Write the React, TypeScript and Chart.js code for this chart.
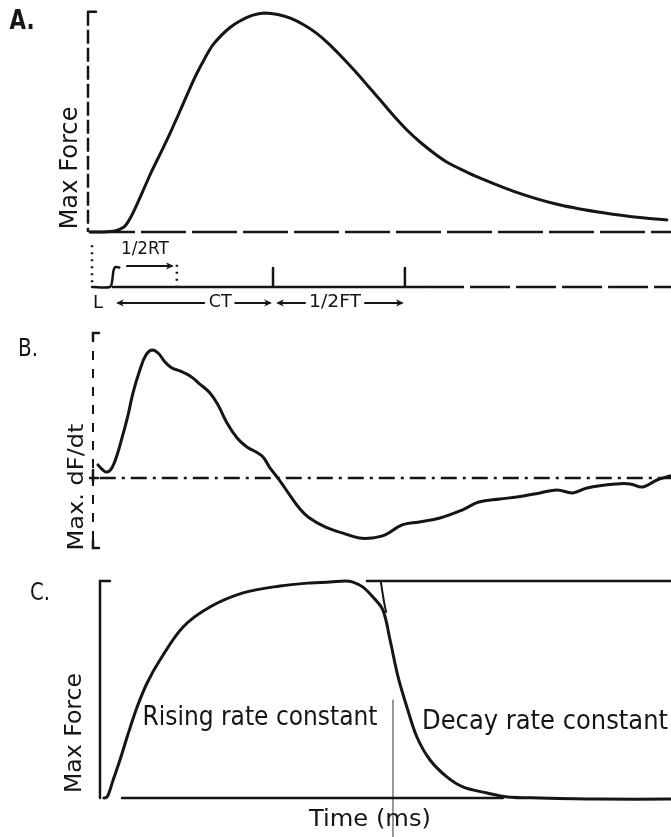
import React, { useEffect, useRef } from 'react';
import { Chart, registerables } from 'chart.js';
Chart.register(...registerables);

const INK = '#151515';
const FONT = '"DejaVu Sans", "Liberation Sans", sans-serif';

// ---------- Panel A: twitch force (fraction of max force) ----------
const twitchTime = [0, 3.4, 8.6, 11.7, 13.1, 14.8, 18.2, 21.3, 24.8, 27.9, 31.0, 33.7, 36.5, 39.6, 42.3, 45.4, 48.2, 51.3, 55.8, 60.2, 64.7, 69.2, 73.7, 77.8, 82.3, 86.7, 91.2, 95.7, 100.2, 104.6, 109.1, 113.6, 118.1, 122.5, 127.4, 132.5, 145.6, 160.4, 174.9, 185.9, 198.6];
const twitchForce = [0, 0, 0.005, 0.023, 0.046, 0.087, 0.187, 0.279, 0.374, 0.461, 0.553, 0.635, 0.717, 0.795, 0.854, 0.900, 0.934, 0.961, 0.989, 1.0, 0.993, 0.975, 0.945, 0.909, 0.858, 0.799, 0.735, 0.667, 0.598, 0.530, 0.466, 0.411, 0.363, 0.322, 0.288, 0.256, 0.187, 0.128, 0.091, 0.071, 0.055];
// timing marks (ms): latency, half rise time, contraction time, half fall time
const timingLabels = ['L', '1/2RT', 'CT', '1/2FT'];
const timingTimes = [7.9, 29.9, 63.0, 108.4];

// ---------- Panel B: dF/dt ----------
const rateTime = [1.4, 3.1, 4.5, 6.2, 8.0, 9.7, 11.8, 13.5, 15.9, 18.0, 20.1, 22.2, 24.6, 27.0, 29.8, 33.3, 36.7, 40.2, 43.0, 46.1, 49.6, 53.0, 56.2, 58.6, 61.0, 64.5, 68.3, 71.4, 74.2, 80.1, 86.0, 91.9, 96.4, 100.9, 106.8, 112.7, 119.9, 127.6, 133.4, 140.7, 146.6, 154.6, 160.5, 166.0, 170.9, 181.3, 185.8, 190.3, 195.1, 199.7];
const rateValue = [0.090, 0.055, 0.041, 0.069, 0.159, 0.276, 0.434, 0.586, 0.745, 0.848, 0.883, 0.862, 0.800, 0.759, 0.738, 0.703, 0.648, 0.586, 0.503, 0.379, 0.276, 0.214, 0.179, 0.145, 0.069, -0.021, -0.131, -0.214, -0.269, -0.338, -0.379, -0.414, -0.414, -0.393, -0.324, -0.303, -0.276, -0.221, -0.166, -0.145, -0.131, -0.103, -0.083, -0.103, -0.069, -0.041, -0.041, -0.062, -0.014, 0.014];

// ---------- Panel C: tetanic rise and decay ----------
const tetTime = [1.4, 2.5, 3.5, 4.6, 7.0, 9.5, 13.0, 16.5, 21.0, 29.1, 38.5, 50.1, 63.0, 73.6, 80.6, 85.8, 88.6, 92.1, 95.6, 99.1, 101.6, 104.4, 107.5, 111.0, 115.6, 121.5, 127.1, 135.6, 142.6, 154.1, 175.1, 200];
const tetForce = [0, 0.005, 0.037, 0.083, 0.175, 0.281, 0.419, 0.530, 0.636, 0.788, 0.880, 0.945, 0.977, 0.991, 0.995, 1.0, 0.995, 0.972, 0.926, 0.866, 0.728, 0.558, 0.419, 0.281, 0.175, 0.097, 0.051, 0.023, 0.005, 0, -0.005, -0.005];
const plateauTime = [93.5, 200];
const plateauForce = [1.0, 1.0];
const decayFitTime = [98.4, 98.8, 99.5, 100.2];
const decayFitForce = [0.995, 0.959, 0.903, 0.857];
const baselineTime = [7.7, 141.1];
const markerTime = [102.6, 102.6];
const markerForce = [0.452, -0.18];

const pts = (xs: number[], ys: number[]) => xs.map((x, i) => ({ x, y: ys[i] }));

const ds = (data: any[], width: number, dash: number[] = [], tension = 0, color = INK) => ({
  data,
  borderColor: color,
  borderWidth: width,
  borderDash: dash,
  borderCapStyle: dash.length ? 'butt' : 'round',
  borderJoinStyle: 'round',
  pointRadius: 0,
  fill: false,
  clip: false,
  tension,
});

function seg(ctx: CanvasRenderingContext2D, p: [number, number][], width = 2.5, dash: number[] = [], color = INK) {
  ctx.save();
  ctx.strokeStyle = color;
  ctx.lineWidth = width;
  ctx.setLineDash(dash);
  ctx.lineCap = dash.length ? 'butt' : 'round';
  ctx.beginPath();
  p.forEach(([x, y], i) => (i ? ctx.lineTo(x, y) : ctx.moveTo(x, y)));
  ctx.stroke();
  ctx.restore();
}

function head(ctx: CanvasRenderingContext2D, x: number, y: number, dir: number, size = 8) {
  ctx.save();
  ctx.fillStyle = INK;
  ctx.beginPath();
  ctx.moveTo(x, y);
  ctx.lineTo(x - dir * size, y - size * 0.45);
  ctx.lineTo(x - dir * size * 0.7, y);
  ctx.lineTo(x - dir * size, y + size * 0.45);
  ctx.closePath();
  ctx.fill();
  ctx.restore();
}

function label(ctx: CanvasRenderingContext2D, s: string, cx: number, cy: number, size: number, width: number, rotate = 0, weight = 'normal') {
  ctx.save();
  ctx.font = `${weight} ${size}px ${FONT}`;
  ctx.fillStyle = INK;
  const w = ctx.measureText(s).width;
  ctx.translate(cx, cy);
  if (rotate) ctx.rotate(rotate);
  ctx.scale(width / w, 1);
  ctx.textAlign = 'center';
  ctx.textBaseline = 'middle';
  ctx.fillText(s, 0, 0);
  ctx.restore();
}

const baseOptions = (pad: any, yMin: number, yMax: number) => ({
  responsive: false,
  maintainAspectRatio: false,
  animation: false,
  devicePixelRatio: 1,
  events: [],
  layout: { padding: pad },
  plugins: { legend: { display: false }, tooltip: { enabled: false } },
  scales: {
    x: { type: 'linear', min: 0, max: 200, display: false },
    y: { type: 'linear', min: yMin, max: yMax, display: false },
  },
});

const annA = {
  id: 'annA',
  afterDatasetsDraw(chart: any) {
    const { ctx, chartArea: ca } = chart;
    const X = (t: number) => chart.scales.x.getPixelForValue(t);
    const Y = (v: number) => chart.scales.y.getPixelForValue(v);
    const ax = ca.left - 2;
    seg(ctx, [[ax, Y(1.006)], [ax, ca.bottom]], 2.5, [14, 4]);
    seg(ctx, [[ax, Y(1.006)], [ax + 8, Y(1.006)]], 2.5);
    label(ctx, 'A.', 22, 22, 26, 25, 0, 'bold');
    label(ctx, 'Max Force', 71, 168, 24, 123, -Math.PI / 2);
    const [xL, xRT, xCT, xFT] = timingTimes.map(X);
    const yRT = Y(-0.155);
    label(ctx, timingLabels[1], (xL + xRT) / 2, Y(-0.082), 17, 48);
    seg(ctx, [[xL + 14, yRT], [xRT - 6, yRT]], 2);
    head(ctx, xRT - 3, yRT, 1);
    const yRow = Y(-0.324);
    label(ctx, timingLabels[0], xL - 15, yRow, 18, 10);
    const ctC = xL + 0.67 * (xCT - xL);
    head(ctx, xL + 3, yRow, -1);
    seg(ctx, [[xL + 8, yRow], [ctC - 16, yRow]], 2);
    label(ctx, timingLabels[2], ctC, yRow, 17, 23);
    seg(ctx, [[ctC + 15, yRow], [xCT - 4, yRow]], 2);
    head(ctx, xCT - 1, yRow, 1);
    const ftC = xCT + 0.47 * (xFT - xCT);
    head(ctx, xCT + 3, yRow, -1);
    seg(ctx, [[xCT + 7, yRow], [ftC - 30, yRow]], 2);
    label(ctx, timingLabels[3], ftC, yRow, 17, 52);
    seg(ctx, [[ftC + 30, yRow], [xFT - 4, yRow]], 2);
    head(ctx, xFT - 1, yRow, 1);
  },
};

const annB = {
  id: 'annB',
  afterDatasetsDraw(chart: any) {
    const { ctx, chartArea: ca } = chart;
    const Y = (v: number) => chart.scales.y.getPixelForValue(v);
    const ax = ca.left - 1;
    seg(ctx, [[ax, ca.top], [ax, ca.bottom]], 2, [9, 9]);
    seg(ctx, [[ax, ca.top + 8], [ax, ca.top], [ax + 6, ca.top]], 2.5);
    seg(ctx, [[ax, ca.bottom - 8], [ax, ca.bottom], [ax + 6, ca.bottom]], 2.5);
    seg(ctx, [[ax, Y(0) - 8], [ax, Y(0) + 4]], 2.5);
    seg(ctx, [[ax - 3, Y(0)], [ax + 5, Y(0)]], 2.5);
    label(ctx, 'B.', 28, 30, 24, 20);
    label(ctx, 'Max. dF/dt', 78, 167, 21, 127, -Math.PI / 2);
  },
};

const annC = {
  id: 'annC',
  afterDatasetsDraw(chart: any) {
    const { ctx, chartArea: ca } = chart;
    seg(ctx, [[ca.left + 10, ca.top], [ca.left, ca.top], [ca.left, ca.bottom]], 2.5);
    label(ctx, 'C.', 40, 34, 24, 20);
    label(ctx, 'Max Force', 75, 173, 23, 120, -Math.PI / 2);
    label(ctx, 'Rising rate constant', 260, 158, 26, 235);
    label(ctx, 'Decay rate constant', 545, 162, 26, 246);
    label(ctx, 'Time (ms)', 370, 260, 23, 122);
  },
};

export default function App() {
  const refA = useRef<HTMLCanvasElement>(null);
  const refB = useRef<HTMLCanvasElement>(null);
  const refC = useRef<HTMLCanvasElement>(null);

  useEffect(() => {
    const [tL, , tCT, tFT] = timingTimes;
    const base = -0.251;
    const tick = -0.164;
    const chartA = new Chart(refA.current as HTMLCanvasElement, {
      type: 'line',
      data: {
        datasets: [
          ds(pts([0, 200], [0, 0]), 2.5, [45, 6]),
          ds(pts(twitchTime, twitchForce), 3, [], 0.3),
          ds(pts([0.7, tL - 1.0, tL - 0.3, tL + 0.2, tL + 0.8, tL + 2.2], [base, base, base + 0.025, base + 0.075, tick + 0.004, tick + 0.002]), 2.5, [], 0.3),
          ds(pts([tL, tCT, tCT, tCT, tFT, tFT, tFT, 115], [base, base, tick, base, base, tick, base, base]), 2.5),
          ds(pts([115, 200], [base, base]), 2.5, [40, 6]),
          ds(pts([0.7, 0.7], [-0.06, base]), 2.5, [2, 5]),
          ds(pts([timingTimes[1], timingTimes[1]], [-0.15, base]), 2.5, [2, 5]),
        ] as any,
      },
      options: baseOptions({ left: 90, right: 0, top: 13, bottom: 88 }, 0, 1) as any,
      plugins: [annA],
    });
    const chartB = new Chart(refB.current as HTMLCanvasElement, {
      type: 'line',
      data: {
        datasets: [
          ds(pts([2, 200], [0, 0]), 2.5, [16, 6, 3, 6]),
          ds(pts(rateTime, rateValue), 3, [], 0.4),
        ] as any,
      },
      options: baseOptions({ left: 94, right: 0, top: 13, bottom: 12 }, -0.483, 1) as any,
      plugins: [annB],
    });
    const chartC = new Chart(refC.current as HTMLCanvasElement, {
      type: 'line',
      data: {
        datasets: [
          ds(pts(baselineTime, [0, 0]), 2.5),
          ds(pts(plateauTime, plateauForce), 2.5),
          ds(pts(decayFitTime, decayFitForce), 2, [], 0.3),
          ds(pts(markerTime, markerForce), 1, [], 0, '#8a8a8a'),
          ds(pts(tetTime, tetForce), 3, [], 0.35),
        ] as any,
      },
      options: baseOptions({ left: 100, right: 0, top: 21, bottom: 39 }, 0, 1) as any,
      plugins: [annC],
    });
    return () => {
      chartA.destroy();
      chartB.destroy();
      chartC.destroy();
    };
  }, []);

  const cs = (top: number): React.CSSProperties => ({ position: 'absolute', left: 0, top });
  return (
    <div style={{ position: 'absolute', left: 0, top: 0, width: 671, height: 837, background: '#fff', overflow: 'hidden' }}>
      <canvas ref={refA} width={671} height={320} style={cs(0)} />
      <canvas ref={refB} width={671} height={240} style={cs(320)} />
      <canvas ref={refC} width={671} height={277} style={cs(560)} />
    </div>
  );
}
